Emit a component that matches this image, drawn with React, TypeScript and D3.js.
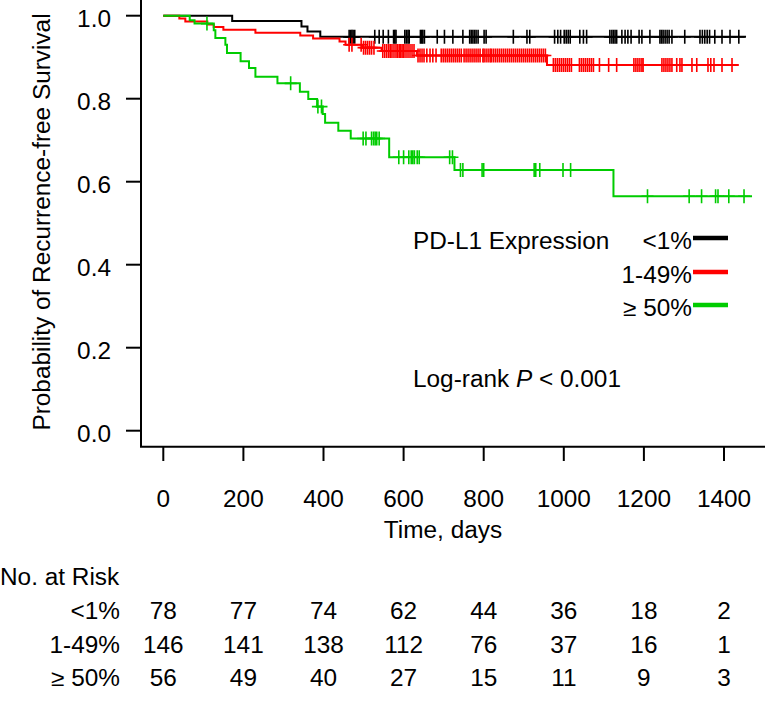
import React from 'react';
import * as d3 from 'd3';

// ---------- data ----------
const groupLabels = ['<1%', '1-49%', '\u2265 50%'];
const groupColors = ['#000000', '#ff0000', '#00cc00'];

// Kaplan-Meier steps: [day, survival after the step]
const stepsLow: [number, number][] = [
  [172, 0.987], [345, 0.974], [360, 0.962], [392, 0.949],
];
const censorLow: number[] = [
  464, 468, 471, 474, 478, 528, 539, 549, 562, 575, 578, 581,
  603, 607, 611, 614, 642, 645, 648, 652, 684, 702, 723, 748, 765, 769, 773, 777, 781, 786,
  801, 806, 874, 908, 915, 977, 985, 992,
  1001, 1006, 1011, 1016, 1040, 1049, 1057, 1115, 1120, 1124, 1128, 1132, 1145, 1153, 1160, 1168, 1188, 1195,
  1215, 1240, 1244, 1248, 1253, 1258, 1263, 1270, 1302, 1340, 1346, 1352, 1358, 1364, 1377, 1395,
  1415, 1437,
];
const endLow = 1455;

const stepsMid: [number, number][] = [
  [40, 0.993], [55, 0.986], [110, 0.979], [126, 0.973], [150, 0.966], [230, 0.959],
  [342, 0.952], [374, 0.945], [440, 0.938], [455, 0.930], [497, 0.923], [545, 0.915],
  [633, 0.904], [958, 0.881],
];
const censorMid: number[] = [
  464, 471, 494, 500, 505, 510, 515, 520, 526, 548, 553, 558, 563, 567, 571, 576, 581, 585, 589, 592, 596, 599,
  601, 606, 611, 616, 621, 626, 636, 641, 646, 651, 658, 666, 673, 681, 694, 699, 704, 709, 714, 719, 724, 729,
  734, 739, 744, 751, 756, 761, 766, 771, 776, 781, 786, 791, 798,
  801, 806, 811, 816, 819, 824, 829, 834, 839, 844, 849, 854, 859, 864, 869, 874, 879, 884, 889, 894, 899, 904,
  909, 914, 919, 924, 929, 934, 939, 944, 949, 954, 974, 979, 984, 989, 994, 999,
  1004, 1009, 1014, 1019, 1039, 1044, 1049, 1054, 1059, 1064, 1069, 1074, 1089, 1112, 1132, 1175, 1180, 1185,
  1190, 1195, 1198,
  1245, 1250, 1255, 1260, 1265, 1270, 1282, 1290, 1295, 1320, 1332, 1360, 1367, 1375, 1395,
  1420,
];
const endMid = 1437;

const stepsHigh: [number, number][] = [
  [66, 0.989], [78, 0.981], [126, 0.965], [130, 0.946], [155, 0.930], [159, 0.910],
  [193, 0.890], [214, 0.874], [230, 0.853], [285, 0.837], [341, 0.817], [362, 0.799],
  [384, 0.781], [398, 0.763], [404, 0.742], [437, 0.723], [468, 0.704], [564, 0.659],
  [727, 0.628], [1124, 0.565],
];
const censorHigh: number[] = [
  109, 318, 386, 395, 499, 506, 520, 525, 529, 533, 539, 588, 600, 613, 619, 623, 627, 634, 639,
  715, 722, 742, 748, 796, 800, 926, 930, 940, 998, 1017, 1209, 1313, 1344, 1379, 1385, 1412, 1450,
];
const endHigh = 1470;

const xTicks = [0, 200, 400, 600, 800, 1000, 1200, 1400];
const yTicks = [0, 0.2, 0.4, 0.6, 0.8, 1.0];

const riskLow = [78, 77, 74, 62, 44, 36, 18, 2];
const riskMid = [146, 141, 138, 112, 76, 37, 16, 1];
const riskHigh = [56, 49, 40, 27, 15, 11, 9, 3];

// ---------- layout ----------
const W = 765;
const H = 706;
const FONT = '"Liberation Sans", Arial, Helvetica, sans-serif';
const FS = 23;
const SX = 1.06;

const x = d3.scaleLinear().domain([0, 1400]).range([163.3, 724]);
const y = d3.scaleLinear().domain([0, 1]).range([430.7, 15.7]);

function survAt(steps: [number, number][], t: number) {
  let s = 1;
  for (const [d, v] of steps) {
    if (d <= t) s = v;
  }
  return s;
}

const T = ({ x: tx, y: ty, anchor = 'start', rotate = 0, children }: any) => (
  <text
    transform={`translate(${tx},${ty}) rotate(${rotate}) scale(${SX},1)`}
    textAnchor={anchor}
    fontFamily={FONT}
    fontSize={FS}
    fill="#000"
  >
    {children}
  </text>
);

const line = d3
  .line<[number, number]>()
  .x((d) => x(d[0]))
  .y((d) => y(d[1]))
  .curve(d3.curveStepAfter);

const Curve = ({ steps, censor, end, color }: any) => {
  const last = steps[steps.length - 1][1];
  const pts: [number, number][] = [[0, 1], ...steps, [end, last]];
  return (
    <g>
      <path d={line(pts) || ''} fill="none" stroke={color} strokeWidth={2} />
      {censor.map((c: number, i: number) => {
        const cx = x(c);
        const cy = y(survAt(steps, c));
        return (
          <path
            key={i}
            d={`M${cx},${cy - 7}V${cy + 7}M${cx - 6},${cy}H${cx + 6}`}
            stroke={color}
            strokeWidth={1.6}
          />
        );
      })}
    </g>
  );
};

export default function App() {
  const legendY = [238, 272, 305];
  const riskRows = [riskLow, riskMid, riskHigh];
  const riskY = [619, 653, 686];
  return (
    <svg
      width={W}
      height={H}
      style={{ position: 'absolute', left: 0, top: 0, background: '#fff' }}
    >
      <rect width={W} height={H} fill="#fff" />
      {/* axes */}
      <path d="M141,0V446.7H765" fill="none" stroke="#000" strokeWidth={2} />
      {yTicks.map((t) => (
        <g key={'y' + t}>
          <line x1={126} x2={141} y1={y(t)} y2={y(t)} stroke="#000" strokeWidth={2} />
          <T x={111} y={y(t) + 11} anchor="end">
            {t.toFixed(1)}
          </T>
        </g>
      ))}
      {xTicks.map((t) => (
        <g key={'x' + t}>
          <line x1={x(t)} x2={x(t)} y1={446.7} y2={461} stroke="#000" strokeWidth={2} />
          <T x={x(t)} y={507} anchor="middle">
            {t}
          </T>
        </g>
      ))}
      <T x={443} y={538} anchor="middle">
        Time, days
      </T>
      <T x={50} y={222} anchor="middle" rotate={-90}>
        Probability of Recurrence-free Survival
      </T>

      {/* curves */}
      <Curve steps={stepsLow} censor={censorLow} end={endLow} color={groupColors[0]} />
      <Curve steps={stepsMid} censor={censorMid} end={endMid} color={groupColors[1]} />
      <Curve steps={stepsHigh} censor={censorHigh} end={endHigh} color={groupColors[2]} />

      {/* legend */}
      <T x={413} y={249}>PD-L1 Expression</T>
      {groupLabels.map((g, i) => (
        <g key={g}>
          <T x={692} y={legendY[i] + 11} anchor="end">
            {g}
          </T>
          <line
            x1={693}
            x2={728}
            y1={legendY[i]}
            y2={legendY[i]}
            stroke={groupColors[i]}
            strokeWidth={4.5}
          />
        </g>
      ))}
      <text
        transform={`translate(413,387) scale(${SX},1)`}
        fontFamily={FONT}
        fontSize={FS}
        fill="#000"
      >
        Log-rank <tspan fontStyle="italic">P</tspan> &lt; 0.001
      </text>

      {/* number at risk */}
      <T x={0} y={585}>No. at Risk</T>
      {riskRows.map((row, r) => (
        <g key={'r' + r}>
          <T x={120} y={riskY[r]} anchor="end">
            {groupLabels[r]}
          </T>
          {row.map((v, i) => (
            <T key={i} x={x(xTicks[i])} y={riskY[r]} anchor="middle">
              {v}
            </T>
          ))}
        </g>
      ))}
    </svg>
  );
}
